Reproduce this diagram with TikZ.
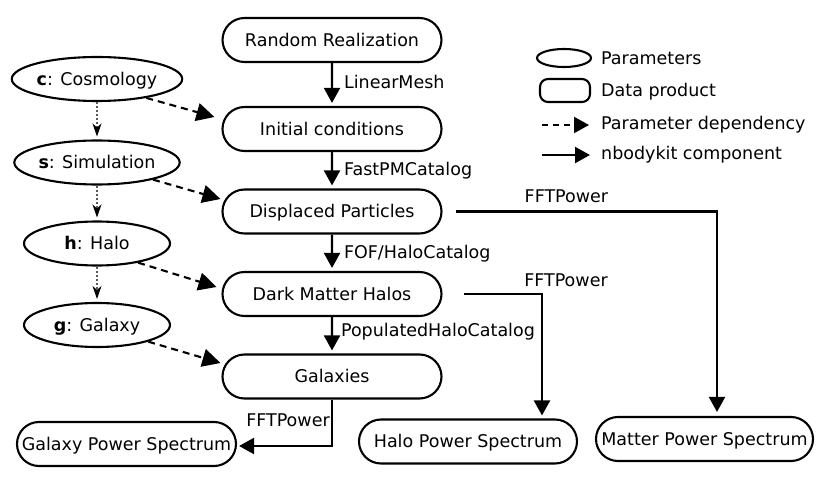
\documentclass[tikz,border=0pt]{standalone}
\usepackage{fontspec}
\setmainfont{DejaVu Sans}
\usetikzlibrary{shapes.geometric,shapes.misc,arrows.meta}
\begin{document}
\begin{tikzpicture}[x=1pt,y=-1pt,
  font=\fontsize{17.5}{20}\selectfont,
  prod/.style={rounded rectangle, draw, line width=2.1pt, minimum width=219pt, minimum height=44pt, inner sep=0pt, text height=12.7pt, text depth=0pt},
  param/.style={ellipse, draw, line width=2.1pt, minimum width=146pt, minimum height=44pt, inner sep=0pt, text height=12.7pt, text depth=0pt},
  comp/.style={line width=2.1pt, -{Triangle[length=15pt,width=16pt]}},
  dep/.style={line width=2.1pt, dash pattern=on 7pt off 5pt, -{Triangle[length=18pt,width=18pt]}},
  order/.style={line width=1.3pt, gray!70!black, dash pattern=on 2pt off 2pt, -{Stealth[black,length=13pt,width=9pt,inset=4pt]}, shorten >=3pt},
  lab/.style={anchor=base west, inner sep=0pt, xshift=11pt},
  flab/.style={anchor=base, inner sep=0pt},
  leg/.style={anchor=base west, inner sep=0pt}
]
\useasboundingbox (0,0) rectangle (831,484);

% data products
\node[prod] (rr) at (332,40) {Random Realization};
\node[prod] (ic) at (332,129) {Initial conditions};
\node[prod] (dp) at (332,211.5) {Displaced Particles};
\node[prod] (dmh) at (332,294) {Dark Matter Halos};
\node[prod] (gal) at (332,376.5) {Galaxies};
\node[prod] (gps) at (126.5,444) {Galaxy Power Spectrum};
\node[prod, minimum width=218pt] (hps) at (468,441.5) {Halo Power Spectrum};
\node[prod, minimum width=217pt] (mps) at (704.5,439) {Matter Power Spectrum};

% parameters
\node[param] (pc) at (97,79) {\textbf{c}: Cosmology};
\node[param] (ps) at (97,162.5) {\textbf{s}: Simulation};
\node[param] (ph) at (97,243.5) {\textbf{h}: Halo};
\node[param] (pg) at (97,325) {\textbf{g}: Galaxy};

% nbodykit components
\draw[comp, shorten >=3pt] (rr) -- (ic) node[lab, pos=0.5, yshift=-3.5pt] {LinearMesh};
\draw[comp, shorten >=3pt] (ic) -- (dp) node[lab, pos=0.5, yshift=-5.5pt] {FastPMCatalog};
\draw[comp, shorten >=3pt] (dp) -- (dmh) node[lab, pos=0.5, yshift=-5.5pt] {FOF/HaloCatalog};
\draw[comp, shorten >=3pt] (dmh) -- (gal) node[lab, pos=0.5, yshift=-1.5pt, xshift=-3pt] {PopulatedHaloCatalog};

\draw[comp, shorten >=4pt] ([xshift=13pt]dp.east) -| ([xshift=12.5pt]mps.north)
  node[flab, pos=0.212, yshift=9.2pt] {FFTPower};
\draw[comp, shorten >=3pt] ([xshift=21pt]dmh.east) -| ([xshift=74pt]hps.north)
  node[flab, pos=0.5, xshift=24pt, yshift=7.5pt] {FFTPower};
\draw[comp, shorten >=2pt] (gal.south) |- ([yshift=-2pt]gps.east)
  node[flab, pos=0.5, xshift=-44pt, yshift=19.3pt] {FFTPower};

% parameter dependencies
\draw[dep] (pc.-21) -- ([shift={(-7,-12)}]ic.west);
\draw[dep] (ps.-17) -- ([shift={(-1,-12.5)}]dp.west);
\draw[dep] (ph.-25) -- ([shift={(-5,-7)}]dmh.west);
\draw[dep] (pg.-18) -- ([shift={(-1,-13.5)}]gal.west);

% parameter order
\draw[order] (pc) -- (ps);
\draw[order] (ps) -- (ph);
\draw[order] (ph) -- (pg);

% legend
\node[ellipse, draw, line width=2.1pt, minimum width=54pt, minimum height=18pt, inner sep=0pt] (lp) at (564,58) {};
\node[rectangle, rounded corners=8pt, draw, line width=2.1pt, minimum width=50pt, minimum height=23pt, inner sep=0pt] (ld) at (565,90.5) {};
\coordinate (la1) at (542,125);
\coordinate (la2) at (589,125);
\draw[line width=2.1pt, dash pattern=on 6pt off 5pt, -{Triangle[length=15pt,width=16pt]}] (la1) -- (la2);
\coordinate (lb1) at (542,155);
\coordinate (lb2) at (590,155);
\draw[comp] (lb1) -- (lb2);
\node[leg] (tp) at (601,64.5) {Parameters};
\node[leg] (td) at (601,96.7) {Data product};
\node[leg] (tdep) at (601,129.3) {Parameter dependency};
\node[leg] (tn) at (601,159.3) {nbodykit component};
\end{tikzpicture}
\end{document}
